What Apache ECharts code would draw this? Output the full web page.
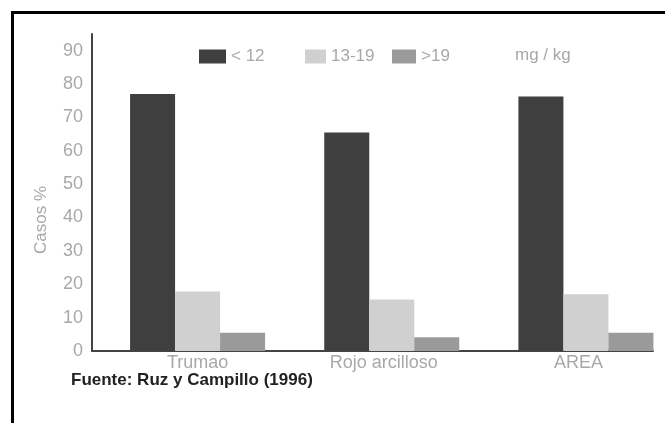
<!DOCTYPE html>
<html>
<head>
<meta charset="utf-8">
<script src="https://cdn.jsdelivr.net/npm/echarts@6/dist/echarts.min.js"></script>
<style>
  html, body { margin: 0; padding: 0; background: #fff; }
  #chart { width: 665px; height: 423px; }
</style>
</head>
<body>
<div id="chart"></div>
<script>
  // datos
  const categorias = ['Trumao', 'Rojo arcilloso', 'AREA'];
  const seriesNames = ['< 12', '13-19', '>19'];
  const menor12 = [77, 65.5, 76.3];
  const entre13y19 = [17.8, 15.4, 17];
  const mayor19 = [5.5, 4.1, 5.5];
  const yMin = 0, yMax = 95, yStep = 10;

  const colores = ['#3f3f3f', '#d0d0d0', '#9a9a9a'];
  const labelShift = [0, 16, 15]; // corrimiento a la izquierda de etiquetas
  const font = 'Liberation Sans, Arial, sans-serif';
  const gris = '#a8a8a8';

  const chart = echarts.init(document.getElementById('chart'));

  const valores = [menor12, entre13y19, mayor19];
  const series = seriesNames.map((name, i) => ({
    name: name,
    type: 'bar',
    xAxisIndex: 0,
    yAxisIndex: 0,
    barWidth: 45,
    barGap: '0%',
    itemStyle: { color: colores[i] },
    data: valores[i]
  }));

  const legendBox = [
    { left: 199, itemWidth: 27 },
    { left: 305, itemWidth: 21 },
    { left: 392, itemWidth: 24 }
  ];

  chart.setOption({
    animation: false,
    textStyle: { fontFamily: font },
    title: {
      text: 'mg / kg',
      left: 515,
      top: 47,
      padding: 0,
      textStyle: { color: gris, fontSize: 17, fontWeight: 'normal', fontFamily: font }
    },
    legend: legendBox.map((b, i) => ({
      data: [seriesNames[i]],
      left: b.left,
      top: 48,
      padding: 0,
      itemWidth: b.itemWidth,
      itemHeight: 14,
      icon: 'rect',
      selectedMode: false,
      textStyle: { color: gris, fontSize: 17, fontFamily: font }
    })),
    grid: [
      // barras
      { left: 100.5, right: -18, top: 34, bottom: 72, outerBoundsMode: 'none' },
      // ejes visibles
      { left: 92, right: 12, top: 34, bottom: 72, outerBoundsMode: 'none' }
    ],
    xAxis: [
      {
        type: 'category',
        gridIndex: 0,
        data: categorias.map((c, i) => ({
          value: c,
          textStyle: { padding: [0, labelShift[i], 0, 0] }
        })),
        axisLine: { show: false },
        axisTick: { show: false },
        axisLabel: { color: gris, fontSize: 18, margin: 3, fontFamily: font }
      },
      {
        type: 'value',
        gridIndex: 1,
        min: 0,
        max: 1,
        axisLine: { show: true, lineStyle: { color: '#444', width: 2 } },
        axisTick: { show: false },
        axisLabel: { show: false },
        splitLine: { show: false }
      }
    ],
    yAxis: [
      {
        type: 'value',
        gridIndex: 0,
        min: yMin,
        max: yMax,
        show: false
      },
      {
        type: 'value',
        gridIndex: 1,
        min: yMin,
        max: yMax,
        interval: yStep,
        name: 'Casos %',
        nameLocation: 'middle',
        nameGap: 42,
        nameTextStyle: { color: gris, fontSize: 17, fontFamily: font, padding: [0, 55, 0, 0] },
        axisLine: { show: true, lineStyle: { color: '#444', width: 2 } },
        axisTick: { show: false },
        axisLabel: { color: gris, fontSize: 18, margin: 9, showMaxLabel: false, fontFamily: font },
        splitLine: { show: false }
      }
    ],
    graphic: [
      {
        type: 'rect',
        shape: { x: 12.5, y: 12.5, width: 700, height: 500 },
        style: { fill: 'none', stroke: '#000', lineWidth: 3 },
        silent: true
      },
      {
        type: 'text',
        left: 71,
        top: 372,
        style: {
          text: 'Fuente: Ruz y Campillo (1996)',
          fill: '#222',
          font: 'bold 17px ' + font
        }
      }
    ],
    series: series
  });
</script>
</body>
</html>
